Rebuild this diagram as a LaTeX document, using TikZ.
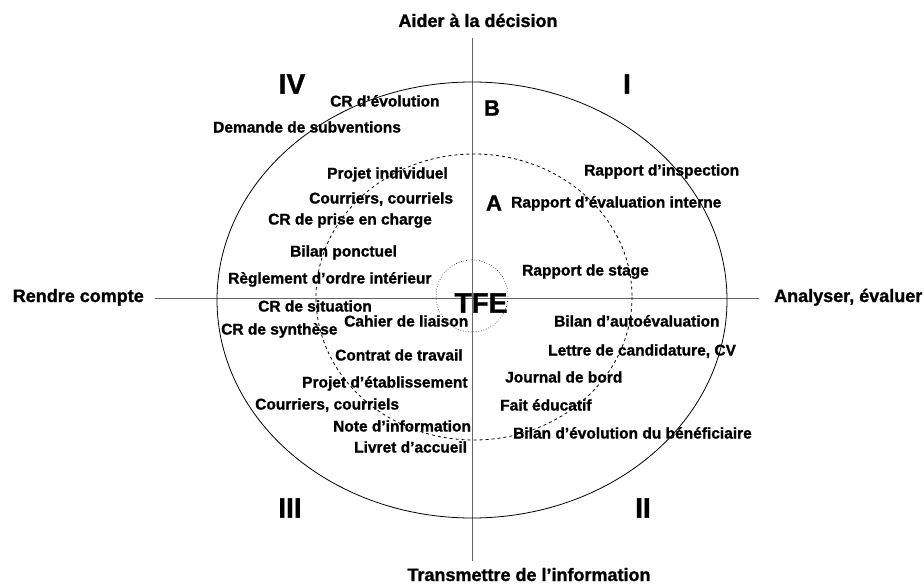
\documentclass[tikz,border=0pt]{standalone}
\usepackage{fontspec}
\setmainfont[BoldFeatures={FakeBold=1.2}]{Liberation Sans}
\usepackage{tikz}

\tikzset{
  doc/.style={font=\bfseries\fontsize{15.5}{17}\selectfont, anchor=west, inner sep=0pt, text height=11pt, text depth=2pt},
  axe/.style={font=\bfseries\fontsize{18}{20}\selectfont, inner sep=0pt, text height=13pt, text depth=3pt},
  quadrant/.style={font=\bfseries\fontsize{28}{30}\selectfont, inner sep=0pt},
  zone/.style={font=\bfseries\fontsize{22}{24}\selectfont, inner sep=0pt},
  axis line/.style={draw=gray!80!black, line width=0.7pt}
}

\begin{document}
\begin{tikzpicture}[x=1pt,y=-1pt]
\useasboundingbox (0,0) rectangle (924,586);

\node[axe] (aider) at (478,22) {Aider à la décision};
\node[axe] (transmettre) at (529,576) {Transmettre de l’information};
\node[axe, anchor=east] (rendre) at (144,297) {Rendre compte};
\node[axe, anchor=west] (analyser) at (774,297) {Analyser, évaluer};

\coordinate (haut) at (472,38);
\coordinate (bas) at (472,561);
\coordinate (gauche) at (155,298);
\coordinate (droite) at (759,298);
\draw[axis line] (haut) -- (bas);
\draw[axis line] (gauche) -- (droite);

\draw[line width=0.8pt] (472,300) ellipse [x radius=255, y radius=218];
\draw[dashed, line width=0.8pt] (474,297) ellipse [x radius=158, y radius=143];
\draw[dotted, line width=0.6pt] (472,296) circle [radius=36];

\node[quadrant] (qI) at (627,84) {I};
\node[quadrant] (qII) at (643,508) {II};
\node[quadrant] (qIII) at (290,508) {III};
\node[quadrant] (qIV) at (292,84) {IV};

\node[zone] (zB) at (492,108) {B};
\node[zone] (zA) at (494,203) {A};
\node[font=\bfseries\fontsize{28}{30}\selectfont, inner sep=0pt] (tfe) at (481,303) {TFE};

\node[doc] (crevol) at (330,102) {CR d’évolution};
\node[doc] (subv) at (213,128) {Demande de subventions};
\node[doc] (projind) at (327,174) {Projet individuel};
\node[doc] (courrA) at (309,199) {Courriers, courriels};
\node[doc] (crprise) at (268,220) {CR de prise en charge};
\node[doc] (bilpon) at (290,252) {Bilan ponctuel};
\node[doc] (regl) at (228,279) {Règlement d’ordre intérieur};
\node[doc] (crsit) at (258,307) {CR de situation};
\node[doc] (crsyn) at (221,330) {CR de synthèse};
\node[doc] (cahier) at (344,322) {Cahier de liaison};
\node[doc] (contrat) at (335,356) {Contrat de travail};
\node[doc] (projetab) at (302,383) {Projet d’établissement};
\node[doc] (courrB) at (255,405) {Courriers, courriels};
\node[doc] (note) at (333,427) {Note d’information};
\node[doc] (livret) at (354,448) {Livret d’accueil};

\node[doc] (inspect) at (584,171) {Rapport d’inspection};
\node[doc] (evalint) at (511,203) {Rapport d’évaluation interne};
\node[doc] (stage) at (522,271) {Rapport de stage};
\node[doc] (autoeval) at (554,322) {Bilan d’autoévaluation};
\node[doc] (lettre) at (548,351) {Lettre de candidature, CV};
\node[doc] (journal) at (505,378) {Journal de bord};
\node[doc] (fait) at (500,406) {Fait éducatif};
\node[doc] (bilevol) at (513,434) {Bilan d’évolution du bénéficiaire};
\end{tikzpicture}
\end{document}
